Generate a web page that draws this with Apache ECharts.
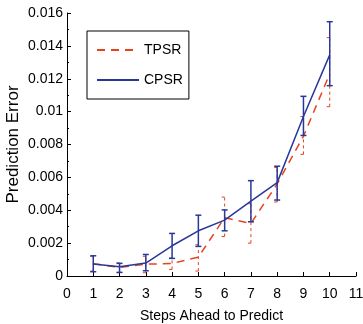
<!DOCTYPE html>
<html><head><meta charset="utf-8">
<script src="https://cdn.jsdelivr.net/npm/echarts@6/dist/echarts.min.js"></script>
<style>html,body{margin:0;padding:0;background:#fff}#c{width:363px;height:324px}</style>
</head><body><div id="c"></div>
<script>
const steps = [1,2,3,4,5,6,7,8,9,10];
const tpsrMean = [0.00075,0.00052,0.00072,0.00076,0.00115,0.00355,0.0032,0.0056,0.0085,0.0123];
const tpsrLow  = [0.0003,0.0002,0.0002,0.0004,0.0003,0.0024,0.0020,0.0045,0.0074,0.0103];
const tpsrHigh = [0.0012,0.0008,0.0012,0.0011,0.0019,0.0048,0.0044,0.0066,0.0097,0.0145];
const cpsrMean = [0.00073,0.00056,0.00079,0.00184,0.00275,0.0034,0.00456,0.00568,0.0097,0.01345];
const cpsrLow  = [0.00026,0.00022,0.00032,0.00107,0.0018,0.00275,0.0033,0.00462,0.00855,0.01158];
const cpsrHigh = [0.00123,0.00077,0.00131,0.00259,0.0037,0.00402,0.0058,0.00668,0.01093,0.01547];
const xTicks = [0,1,2,3,4,5,6,7,8,9,10,11];
const yTicks = [0,0.002,0.004,0.006,0.008,0.01,0.012,0.014,0.016];

const RED = '#e5431f', BLUE = '#28379a';
const FONT = 'Liberation Sans, Arial, sans-serif';

function errData(lo, hi){ return steps.map((s,i)=>[s, lo[i], hi[i]]); }
function errRender(color, dash, width){
  return function(params, api){
    const x = api.value(0);
    const p1 = api.coord([x, api.value(1)]);
    const p2 = api.coord([x, api.value(2)]);
    const w = 3;
    const style = {stroke: color, lineWidth: width, lineDash: dash};
    return {type:'group', children:[
      {type:'line', shape:{x1:p1[0],y1:p1[1],x2:p2[0],y2:p2[1]}, style},
      {type:'line', shape:{x1:p1[0]-w,y1:p1[1],x2:p1[0]+w,y2:p1[1]}, style},
      {type:'line', shape:{x1:p2[0]-w,y1:p2[1],x2:p2[0]+w,y2:p2[1]}, style}
    ]};
  };
}

const chart = echarts.init(document.getElementById('c'));
chart.setOption({
  animation:false,
  backgroundColor:'#fff',
  grid:{left:67,right:7,top:13,bottom:48,containLabel:false,outerBoundsMode:'none'},
  legend:{
    left:87, top:31, orient:'vertical',
    data:['TPSR','CPSR'],
    borderColor:'#000', borderWidth:1, borderRadius:0,
    padding:[12,6,12,9], itemGap:16, itemWidth:42, itemHeight:14,
    itemStyle:{opacity:0},
    textStyle:{fontFamily:FONT,fontSize:14,color:'#000'},
    backgroundColor:'#fff'
  },
  xAxis:{
    type:'value', min:0, max:11, interval:1,
    name:'Steps Ahead to Predict', nameLocation:'middle', nameGap:33, nameMoveOverlap:false,
    nameTextStyle:{fontFamily:FONT,fontSize:14,color:'#000'},
    axisLine:{lineStyle:{color:'#000',width:1}},
    axisTick:{inside:true,length:4,lineStyle:{color:'#000'}},
    axisLabel:{fontFamily:FONT,fontSize:14,color:'#000',margin:11,
      formatter:v=>xTicks.includes(Math.round(v))?String(Math.round(v)):''},
    splitLine:{show:false}
  },
  yAxis:{
    type:'value', min:0, max:0.016, interval:0.002,
    name:'Prediction Error', nameLocation:'middle', nameGap:45, nameMoveOverlap:false,
    nameTextStyle:{fontFamily:FONT,fontSize:17,color:'#000'},
    axisLine:{show:true,lineStyle:{color:'#000',width:1}},
    axisTick:{show:true,inside:true,length:4,lineStyle:{color:'#000'}},
    minorTick:{show:true,splitNumber:2,length:2,lineStyle:{color:'#000'}},
    axisLabel:{fontFamily:FONT,fontSize:14,color:'#000',margin:4,
      formatter:v=>{const r=parseFloat(v.toFixed(3)); return yTicks.some(t=>Math.abs(t-r)<1e-9)?String(r):'';}},
    splitLine:{show:false}
  },
  series:[
    {type:'custom', name:'TPSR_err', silent:true, z:2,
     renderItem:errRender(RED,[3,3],1), data:errData(tpsrLow,tpsrHigh),
     encode:{x:0,y:[1,2]}},
    {type:'line', name:'TPSR', z:3, symbol:'none',
     data:steps.map((s,i)=>[s,tpsrMean[i]]),
     lineStyle:{color:RED,width:1.5,type:[8,6]}, itemStyle:{color:RED}},
    {type:'custom', name:'CPSR_err', silent:true, z:4,
     renderItem:errRender(BLUE,null,1.5), data:errData(cpsrLow,cpsrHigh),
     encode:{x:0,y:[1,2]}},
    {type:'line', name:'CPSR', z:5, symbol:'none',
     data:steps.map((s,i)=>[s,cpsrMean[i]]),
     lineStyle:{color:BLUE,width:1.5}, itemStyle:{color:BLUE}}
  ]
});
</script></body></html>
